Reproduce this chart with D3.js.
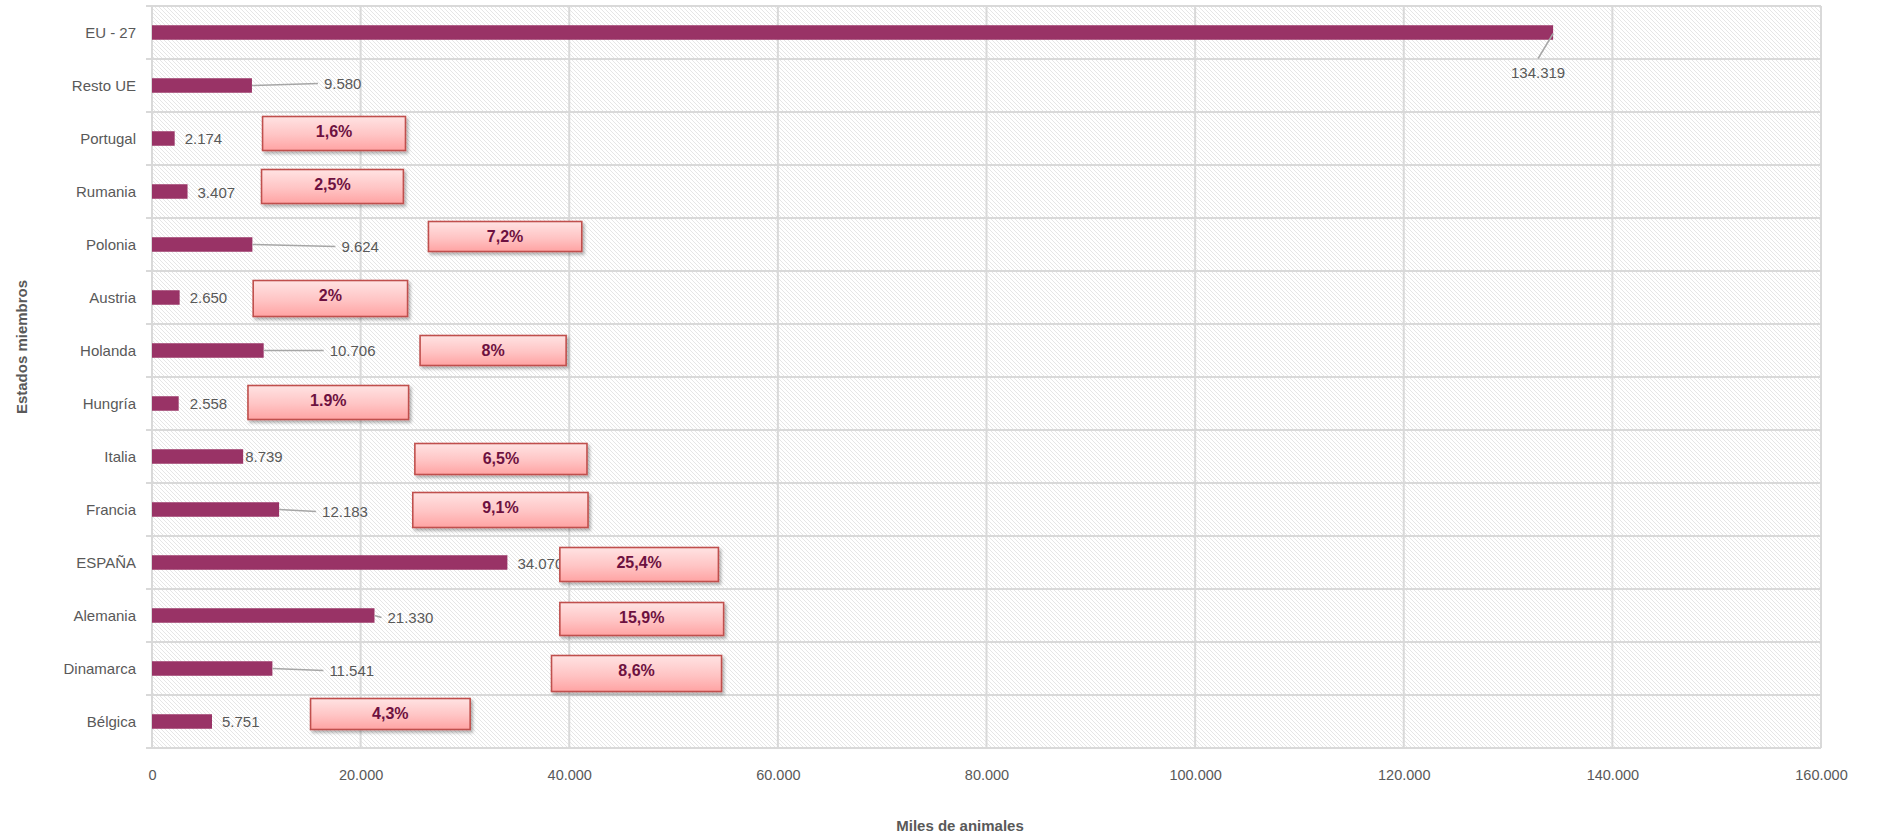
<!DOCTYPE html>
<html>
<head>
<meta charset="utf-8">
<script src="https://cdn.jsdelivr.net/npm/d3@7"></script>
<style>
  body { margin: 0; background: #fff; }
  text { font-family: "Liberation Sans", Arial, sans-serif; }
</style>
</head>
<body>
<script>
// categories, top to bottom
const countries = ["EU - 27", "Resto UE", "Portugal", "Rumania", "Polonia", "Austria", "Holanda",
    "Hungría", "Italia", "Francia", "ESPAÑA", "Alemania", "Dinamarca", "Bélgica"];
// miles de animales
const heads = [134319, 9580, 2174, 3407, 9624, 2650, 10706, 2558, 8739, 12183, 34070, 21330, 11541, 5751];
const xTicks = [0, 20000, 40000, 60000, 80000, 100000, 120000, 140000, 160000];

// share boxes (null = no box); from / to in thousands of animals along the x axis
const shareText = [null, null, "1,6%", "2,5%", "7,2%", "2%", "8%", "1.9%", "6,5%", "9,1%", "25,4%", "15,9%", "8,6%", "4,3%"];
const shareFrom = [null, null, 10600, 10500, 26500, 9700, 25700, 9200, 25200, 25000, 39100, 39100, 38300, 15200];
const shareTo   = [null, null, 24300, 24100, 41200, 24500, 39700, 24600, 41700, 41800, 54300, 54800, 54600, 30500];

// layout tweaks for labels and boxes (pixels)
const labelShift = [0, 72, 10, 10, 89, 10, 66, 11, 2, 43, 10, 13, 57, 10];
const labelLift = [0, -2, 0, 1, 2, 0, 0, 0, 0, 2, 1, 2, 2, 0];
const boxTop = [0, 0, -22, -22, -23, -17, -15, -18, -13, -17, -15, -13, -13, -23];
const boxBottom = [0, 0, 12, 12, 7, 19, 15, 16, 18, 18, 19, 20, 23, 8];

const width = 1883, height = 835;
const margin = {top: 6, right: 62, bottom: 87, left: 152};
const grey = "#595959";
const fmt = d3.formatLocale({decimal: ",", thousands: ".", grouping: [3], currency: ["", ""]}).format(",d");

const rows = countries.map((c, i) => ({
    name: c, value: heads[i], shift: labelShift[i], lift: labelLift[i],
    share: shareText[i], from: shareFrom[i], to: shareTo[i], top: boxTop[i], bottom: boxBottom[i]
}));

const svg = d3.select("body").append("svg")
    .attr("width", width)
    .attr("height", height);

const defs = svg.append("defs");

let hatch = defs.append("pattern")
    .attr("id", "hatch")
    .attr("patternUnits", "userSpaceOnUse")
    .attr("width", 4)
    .attr("height", 4);
hatch.append("rect").attr("width", 4).attr("height", 4).attr("fill", "#fff");
hatch.append("path")
    .attr("d", "M -1,-1 L 5,5 M -1,3 L 1,5 M 3,-1 L 5,1")
    .attr("stroke", "#e3e3e3")
    .attr("stroke-width", 0.9);

let grad = defs.append("linearGradient")
    .attr("id", "boxfill")
    .attr("x1", 0).attr("y1", 0).attr("x2", 0).attr("y2", 1);
grad.append("stop").attr("offset", "0%").attr("stop-color", "#ffe3e3");
grad.append("stop").attr("offset", "55%").attr("stop-color", "#ffc4c4");
grad.append("stop").attr("offset", "100%").attr("stop-color", "#ffa3a3");

defs.append("filter")
    .attr("id", "shadow")
    .attr("x", "-10%").attr("y", "-20%").attr("width", "130%").attr("height", "160%")
    .append("feDropShadow")
    .attr("dx", 2).attr("dy", 2.5).attr("stdDeviation", 1.5)
    .attr("flood-color", "#000").attr("flood-opacity", 0.3);

const x = d3.scaleLinear()
    .domain([0, 160000])
    .range([margin.left, width - margin.right]);

const y = d3.scaleBand()
    .domain(countries)
    .range([margin.top, height - margin.bottom]);

const yc = d => y(d) + y.bandwidth() / 2;

// plot background
svg.append("rect")
    .attr("x", x(0))
    .attr("y", margin.top)
    .attr("width", x(160000) - x(0))
    .attr("height", height - margin.bottom - margin.top)
    .attr("fill", "url(#hatch)");

// vertical grid
svg.append("g")
    .selectAll("line")
    .data(xTicks)
    .join("line")
    .attr("x1", d => x(d)).attr("x2", d => x(d))
    .attr("y1", margin.top).attr("y2", height - margin.bottom)
    .attr("stroke", "#d9d9d9")
    .attr("stroke-width", 2);

// horizontal category separators
const bounds = countries.map(c => y(c)).concat([y.range()[1]]);
svg.append("g")
    .selectAll("line")
    .data(bounds)
    .join("line")
    .attr("x1", x(0) - 6).attr("x2", x(160000))
    .attr("y1", d => d).attr("y2", d => d)
    .attr("stroke", "#d9d9d9")
    .attr("stroke-width", 2);

// x axis
const xAxis = svg.append("g")
    .attr("transform", "translate(0," + (height - margin.bottom) + ")")
    .call(d3.axisBottom(x).tickValues(xTicks).tickFormat(fmt).tickSize(0).tickPadding(22));
xAxis.select(".domain").remove();
xAxis.selectAll("text")
    .attr("fill", grey)
    .style("font-size", "14.5px");

// y axis labels
svg.append("g")
    .selectAll("text")
    .data(countries)
    .join("text")
    .attr("x", x(0) - 16)
    .attr("y", d => yc(d))
    .attr("dy", "0.35em")
    .attr("text-anchor", "end")
    .attr("fill", grey)
    .style("font-size", "15px")
    .text(d => d);

// bars
const barH = 14.5;
svg.append("g")
    .selectAll("rect")
    .data(rows)
    .join("rect")
    .attr("x", x(0))
    .attr("y", d => yc(d.name) - barH / 2)
    .attr("width", d => x(d.value) - x(0))
    .attr("height", barH)
    .attr("fill", "#993366");

// value labels
const normal = rows.slice(1);
svg.append("g")
    .selectAll("line")
    .data(normal.filter(d => d.shift > 12))
    .join("line")
    .attr("x1", d => x(d.value))
    .attr("x2", d => x(d.value) + d.shift - 6)
    .attr("y1", d => yc(d.name))
    .attr("y2", d => yc(d.name) + d.lift)
    .attr("stroke", "#a6a6a6")
    .attr("stroke-width", 1.5);

svg.append("g")
    .selectAll("text")
    .data(normal)
    .join("text")
    .attr("x", d => x(d.value) + d.shift)
    .attr("y", d => yc(d.name) + d.lift)
    .attr("dy", "0.35em")
    .attr("fill", grey)
    .style("font-size", "15px")
    .text(d => fmt(d.value));

// EU-27 label sits below the bar end
const eu = rows[0];
svg.append("line")
    .attr("x1", x(eu.value))
    .attr("y1", yc(eu.name) + 1)
    .attr("x2", x(eu.value) - 15)
    .attr("y2", yc(eu.name) + 26)
    .attr("stroke", "#a6a6a6")
    .attr("stroke-width", 1.5);
svg.append("text")
    .attr("x", x(eu.value) - 15)
    .attr("y", yc(eu.name) + 40)
    .attr("dy", "0.35em")
    .attr("text-anchor", "middle")
    .attr("fill", grey)
    .style("font-size", "15px")
    .text(fmt(eu.value));

// share boxes
const box = svg.append("g")
    .selectAll("g")
    .data(rows.filter(d => d.share))
    .join("g");

box.append("rect")
    .attr("x", d => x(d.from))
    .attr("y", d => yc(d.name) + d.top)
    .attr("width", d => x(d.to) - x(d.from))
    .attr("height", d => d.bottom - d.top)
    .attr("fill", "url(#boxfill)")
    .attr("stroke", "#c0504d")
    .attr("stroke-width", 1.6)
    .attr("filter", "url(#shadow)");

box.append("text")
    .attr("x", d => (x(d.from) + x(d.to)) / 2)
    .attr("y", d => yc(d.name) + d.top + 15)
    .attr("dy", "0.35em")
    .attr("text-anchor", "middle")
    .attr("fill", "#6d1140")
    .style("font-size", "16px")
    .style("font-weight", "bold")
    .text(d => d.share);

// axis titles
svg.append("text")
    .attr("x", 960)
    .attr("y", 826)
    .attr("dy", "0.35em")
    .attr("text-anchor", "middle")
    .attr("fill", grey)
    .style("font-size", "15px")
    .style("font-weight", "bold")
    .text("Miles de animales");

svg.append("text")
    .attr("transform", "translate(22," + 347 + ") rotate(-90)")
    .attr("dy", "0.35em")
    .attr("text-anchor", "middle")
    .attr("fill", grey)
    .style("font-size", "15px")
    .style("font-weight", "bold")
    .text("Estados miembros");
</script>
</body>
</html>
